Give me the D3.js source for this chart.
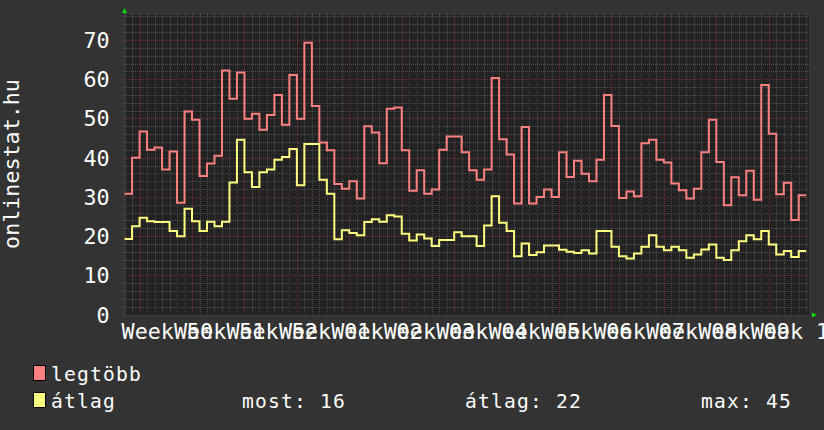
<!DOCTYPE html>
<html>
<head>
<meta charset="utf-8">
<script src="https://cdn.jsdelivr.net/npm/d3@7"></script>
<style>
  html, body { margin: 0; padding: 0; background: #333333; }
  svg { display: block; }
  text { font-family: "DejaVu Sans Mono", monospace; fill: #ffffff; }
</style>
</head>
<body>
<script>
// daily values, 91 days (day 0 .. day 90)
const legtobb = [
  30.8, 40, 46.7, 42, 42.6, 37, 41.6, 28.5, 51.8, 49.7,
  35.3, 38.5, 40.5, 62.2, 55, 61.7, 49.9, 51.2, 47.1, 50.9,
  56, 48.4, 61.1, 49.9, 69.3, 53.2, 43.9, 41.9, 33.3, 32.1,
  34, 29.6, 48, 46.4, 38.6, 52.5, 52.8, 41.9, 31.6, 36.8,
  30.8, 31.9, 42, 45.4, 45.4, 41.4, 36.8, 34.4, 37, 60.3,
  44.7, 40.8, 28.3, 47.8, 28.3, 30, 31.9, 30, 41.4, 35.1,
  39.2, 35.9, 34, 39.5, 56, 48.1, 29.7, 31.4, 30.2, 43.7,
  44.6, 39.5, 38.8, 33.4, 31.7, 29.6, 32.1, 41.4, 49.7, 38.9,
  27.9, 35, 30.4, 36.7, 29.3, 58.5, 46.1, 30.7, 33.6, 24.1,
  30.4
];
const atlag = [
  19.3, 22.5, 24.7, 23.8, 23.6, 23.6, 21.3, 20, 27, 23.8,
  21.3, 23.7, 22.5, 23.7, 33.7, 44.6, 36.3, 32.5, 36.3, 37,
  39.5, 40.2, 42.2, 33, 43.5, 43.5, 34.4, 30.8, 19.2, 21.5,
  20.8, 20.2, 23.6, 24.3, 23.7, 25.3, 25, 20.6, 18.9, 20.4,
  19.4, 17.5, 19, 19, 21, 20, 20, 17.5, 22.7, 30.2,
  23.4, 21.3, 14.9, 18.1, 15.2, 15.9, 17.6, 17.6, 16.5, 16,
  15.7, 16.4, 15.6, 21.3, 21.3, 17.3, 14.9, 14.3, 15.6, 17.3,
  20.2, 17.3, 16.4, 17.3, 16.4, 14.5, 15.3, 16.6, 17.9, 14.5,
  13.9, 16.4, 18.7, 20.2, 19.2, 21.3, 17.9, 15.3, 16.2, 14.7,
  16.2
];
const weekLabels = ['Week 50', 'Week 51', 'Week 52', 'Week 01', 'Week 02', 'Week 03',
  'Week 04', 'Week 05', 'Week 06', 'Week 07', 'Week 08', 'Week 09', 'Week 10'];
const firstWeekDay = 2;   // day index of the first week boundary
const yTicks = [0, 10, 20, 30, 40, 50, 60, 70];
const legendStats = [['most: 16', 242], ['átlag: 22', 465], ['max: 45', 701]];

const W = 824, H = 430;
const x = d3.scaleLinear().domain([0, 91]).range([124.6, 806.2]);
const y = d3.scaleLinear().domain([0, 70]).range([314.6, 40]);
const pLeft = 125, pRight = 809, pTop = 15, pBottom = 315;
const yMax = y.invert(pTop);

const svg = d3.select('body').append('svg')
  .attr('width', W).attr('height', H);

svg.append('rect').attr('width', W).attr('height', H).attr('fill', '#333333');
svg.append('rect')
  .attr('x', pLeft).attr('y', pTop)
  .attr('width', pRight - pLeft).attr('height', pBottom - pTop)
  .attr('fill', '#222222');

const grid = svg.append('g').attr('shape-rendering', 'crispEdges');

// minor grid
d3.range(0, yMax, 2).filter(v => v % 10 !== 0).forEach(v => {
  grid.append('line')
    .attr('x1', pLeft - 2).attr('x2', pRight + 2)
    .attr('y1', Math.round(y(v)) + 0.5).attr('y2', Math.round(y(v)) + 0.5)
    .attr('stroke', '#4e4e4e').attr('stroke-dasharray', '1,1');
});
d3.range(0, 92).filter(d => (d - firstWeekDay) % 7 !== 0).forEach(d => {
  grid.append('line')
    .attr('x1', Math.round(x(d)) + 0.5).attr('x2', Math.round(x(d)) + 0.5)
    .attr('y1', pTop - 2).attr('y2', pBottom + 2)
    .attr('stroke', '#4e4e4e').attr('stroke-dasharray', '1,1');
});

// major grid
yTicks.forEach(v => {
  grid.append('line')
    .attr('x1', pLeft - 2).attr('x2', pRight + 2)
    .attr('y1', Math.round(y(v)) + 0.5).attr('y2', Math.round(y(v)) + 0.5)
    .attr('stroke', '#6e3434').attr('stroke-dasharray', '1,1');
});
weekLabels.forEach((lbl, i) => {
  const d = firstWeekDay + 7 * i;
  grid.append('line')
    .attr('x1', Math.round(x(d)) + 0.5).attr('x2', Math.round(x(d)) + 0.5)
    .attr('y1', pTop - 2).attr('y2', pBottom + 2)
    .attr('stroke', '#6e3434').attr('stroke-dasharray', '1,1');
});

// axes
grid.append('line').attr('x1', pLeft - 2).attr('x2', pRight + 3)
  .attr('y1', pBottom + 0.5).attr('y2', pBottom + 0.5).attr('stroke', '#3c3c3c');
grid.append('line').attr('x1', pLeft - 0.5).attr('x2', pLeft - 0.5)
  .attr('y1', pTop - 3).attr('y2', pBottom + 2).attr('stroke', '#3c3c3c');
svg.append('path').attr('d', `M${pLeft - 3},${pTop - 2} L${pLeft + 2},${pTop - 2} L${pLeft - 0.5},${pTop - 7} Z`)
  .attr('fill', '#00e000');
svg.append('path').attr('d', `M${pRight + 3},${pBottom - 2.5} L${pRight + 3},${pBottom + 2.5} L${pRight + 8},${pBottom} Z`)
  .attr('fill', '#00e000');

// data
const line = d3.line()
  .x((v, i) => x(i))
  .y(v => y(v))
  .curve(d3.curveStepAfter);

[[legtobb, '#ff8080'], [atlag, '#ffff80']].forEach(([vals, col]) => {
  svg.append('path')
    .datum(vals.concat([vals[vals.length - 1]]))
    .attr('d', line)
    .attr('fill', 'none')
    .attr('stroke', col)
    .attr('stroke-width', 2);
});

// y labels
svg.append('g').selectAll('text')
  .data(yTicks).enter().append('text')
  .attr('x', 109.5).attr('y', v => y(v) + 8)
  .attr('text-anchor', 'end')
  .attr('font-size', '21.7px')
  .text(v => v);

// x labels
svg.append('g').selectAll('text')
  .data(weekLabels).enter().append('text')
  .attr('x', (l, i) => x(firstWeekDay + 7 * i + 3.5) + 1.5)
  .attr('y', 338.5)
  .attr('text-anchor', 'middle')
  .attr('font-size', '21.7px')
  .text(l => l);

// title
svg.append('text')
  .attr('transform', 'translate(19,164) rotate(-90)')
  .attr('text-anchor', 'middle')
  .attr('font-size', '21.7px')
  .text('onlinestat.hu');

// legend
const legend = svg.append('g');
[['legtöbb', '#ff8080', 381], ['átlag', '#ffff80', 408]].forEach(([name, col, by]) => {
  legend.append('rect')
    .attr('x', 33.5).attr('y', by - 15.5)
    .attr('width', 12).attr('height', 15)
    .attr('fill', col).attr('stroke', '#000').attr('stroke-width', 1);
  legend.append('text')
    .attr('x', 51).attr('y', by)
    .attr('font-size', '19.6px').attr('letter-spacing', '1.2px')
    .text(name);
});
legendStats.forEach(([t, lx]) => {
  legend.append('text')
    .attr('x', lx).attr('y', 408)
    .attr('font-size', '19.6px').attr('letter-spacing', '1.2px')
    .text(t);
});
</script>
</body>
</html>
